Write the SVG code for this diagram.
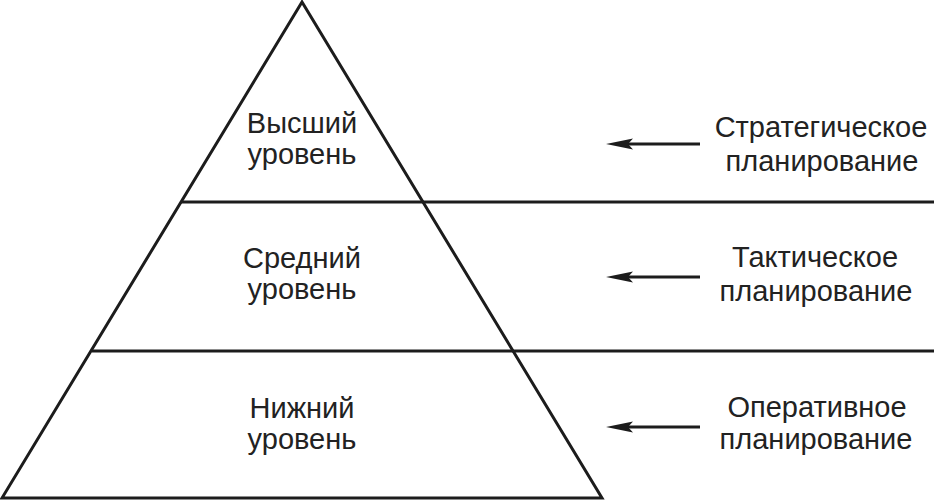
<svg xmlns="http://www.w3.org/2000/svg" width="934" height="502" viewBox="0 0 934 502">
<style>
.ln{stroke:#1c1c1c;stroke-width:3;fill:none;stroke-linejoin:miter}
.t{font-family:"Liberation Sans",Arial,sans-serif;font-size:29px;fill:#222;text-anchor:middle}
.ar{stroke:#1c1c1c;stroke-width:3;fill:none}
</style>
<defs>
<marker id="ah" markerUnits="userSpaceOnUse" markerWidth="28" markerHeight="12" refX="13" refY="6" orient="auto" viewBox="0 0 28 12">
<path d="M27,6 L0,0.5 L5,6 L0,11.5 Z" fill="#1c1c1c"/>
</marker>
</defs>
<rect width="934" height="502" fill="#fff"/>
<g id="pyramid">
<polygon class="ln" points="302,2 2,498 602,498"/>
<line class="ln" x1="181" y1="202" x2="934" y2="202"/>
<line class="ln" x1="92" y1="351" x2="934" y2="351"/>
</g>
<g id="level-top"><text class="t" x="302" y="133">Высший</text><text class="t" x="302" y="164">уровень</text></g>
<g id="level-mid"><text class="t" x="302" y="268">Средний</text><text class="t" x="302" y="299">уровень</text></g>
<g id="level-low"><text class="t" x="302" y="418">Нижний</text><text class="t" x="302" y="449">уровень</text></g>
<g id="plan-strategic"><text class="t" x="821" y="137">Стратегическое</text><text class="t" x="822" y="171">планирование</text></g>
<g id="plan-tactical"><text class="t" x="815" y="267">Тактическое</text><text class="t" x="816" y="301">планирование</text></g>
<g id="plan-operational"><text class="t" x="817" y="417">Оперативное</text><text class="t" x="816" y="449">планирование</text></g>
<g id="connectors">
<line class="ar" x1="700" y1="144" x2="620" y2="144" marker-end="url(#ah)"/>
<line class="ar" x1="700" y1="277" x2="620" y2="277" marker-end="url(#ah)"/>
<line class="ar" x1="700" y1="427" x2="620" y2="427" marker-end="url(#ah)"/>
</g>
</svg>
